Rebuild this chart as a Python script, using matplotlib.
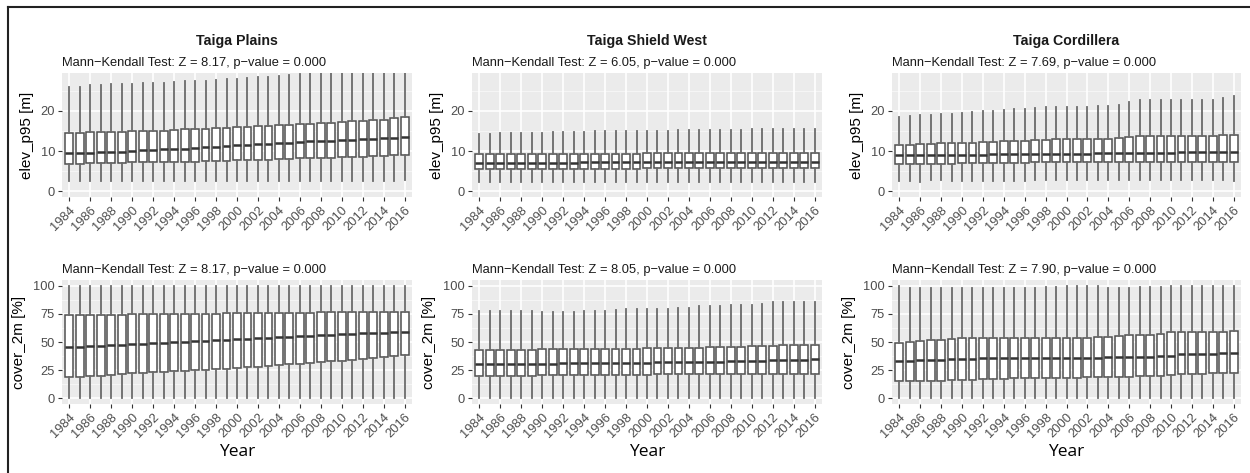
import matplotlib
matplotlib.use("Agg")
import matplotlib.pyplot as plt
from matplotlib.lines import Line2D

years = list(range(1984, 2017))
tick_years = [y for y in years if y % 2 == 0]

regions = ["Taiga Plains", "Taiga Shield West", "Taiga Cordillera"]
subtitles_elev = ["Mann\u2212Kendall Test: Z = 8.17, p\u2212value = 0.000",
                  "Mann\u2212Kendall Test: Z = 6.05, p\u2212value = 0.000",
                  "Mann\u2212Kendall Test: Z = 7.69, p\u2212value = 0.000"]
subtitles_cov = ["Mann\u2212Kendall Test: Z = 8.17, p\u2212value = 0.000",
                 "Mann\u2212Kendall Test: Z = 8.05, p\u2212value = 0.000",
                 "Mann\u2212Kendall Test: Z = 7.90, p\u2212value = 0.000"]

# ---- Taiga Plains elev_p95
tp_elev_lo = [2.5]*31 + [2.6, 2.8]
tp_elev_q1 = [6.9,6.9,7.0,7.0,7.1,7.1,7.2,7.2,7.2,7.2,7.3,7.4,7.4,7.5,7.6,7.6,7.7,7.7,7.8,7.9,8.0,8.1,8.2,8.2,8.3,8.4,8.5,8.6,8.6,8.7,8.8,9.0,9.1]
tp_elev_med = [9.5,9.5,9.6,9.7,9.8,9.9,10.0,10.2,10.3,10.4,10.5,10.6,10.8,10.9,11.0,11.2,11.4,11.5,11.7,11.8,11.9,12.1,12.3,12.4,12.5,12.6,12.8,12.8,13.0,13.1,13.2,13.2,13.5]
tp_elev_q3 = [14.6,14.6,14.7,14.7,14.8,14.8,14.9,15.1,15.1,15.1,15.2,15.4,15.5,15.6,15.7,15.8,16.0,16.1,16.2,16.3,16.5,16.5,16.7,16.8,17.0,17.0,17.2,17.4,17.6,17.7,17.8,18.2,18.4]
tp_elev_hi = [25.9,26.0,26.4,26.5,26.6,26.6,26.7,26.9,27.0,27.0,27.1,27.3,27.4,27.5,27.7,27.8,28.0,28.1,28.3,28.5,28.7,29.0,29.2,29.6,30.0,30.4,30.8,31.2,31.6,32.0,32.4,32.8,33.2]

# ---- Taiga Shield West elev_p95
tsw_elev_lo = [2.4]*33
tsw_elev_q1 = [5.6]*16 + [5.7]*17
tsw_elev_med = [7.1]*10 + [7.2]*15 + [7.3]*8
tsw_elev_q3 = [9.2,9.2,9.3,9.3,9.3,9.3,9.3,9.3,9.3,9.4,9.4,9.4,9.4,9.4,9.4,9.4,9.5,9.5,9.5,9.5,9.5,9.5,9.5,9.5,9.6,9.6,9.6,9.6,9.6,9.6,9.6,9.6,9.6]
tsw_elev_hi = [14.2,14.3,14.4,14.5,14.5,14.6,14.6,14.7,14.7,14.8,14.8,14.9,14.9,14.9,15.0,15.0,15.0,15.1,15.1,15.2,15.2,15.2,15.3,15.3,15.3,15.3,15.4,15.4,15.4,15.4,15.4,15.5,15.5]

# ---- Taiga Cordillera elev_p95
tc_elev_lo = [2.5,2.6,2.3,2.7,2.7,2.6,2.5,2.5,2.5,2.6,2.5,2.6,2.6,2.7,2.7,2.7,2.7,2.7,2.7,2.7,2.7,2.7,2.7,2.7,2.7,2.7,2.7,2.7,2.7,2.7,2.7,2.7,2.6]
tc_elev_q1 = [6.7,6.7,6.8,6.9,6.9,6.9,7.0,7.0,7.0,7.1,7.1,7.1,7.1,7.2,7.2,7.2,7.3,7.3,7.3,7.3,7.3,7.3,7.3,7.4,7.4,7.4,7.4,7.4,7.4,7.4,7.4,7.4,7.4]
tc_elev_med = [9.0,9.0,9.0,9.0,9.0,9.1,9.1,9.1,9.1,9.2,9.2,9.2,9.2,9.3,9.4,9.4,9.4,9.4,9.4,9.5,9.5,9.5,9.6,9.6,9.6,9.6,9.6,9.7,9.7,9.7,9.7,9.8,9.8]
tc_elev_q3 = [11.4,11.5,11.7,11.8,11.9,11.9,12.0,12.1,12.2,12.3,12.4,12.5,12.5,12.7,12.8,12.9,12.9,12.9,12.9,13.0,13.1,13.2,13.5,13.7,13.7,13.7,13.7,13.7,13.7,13.7,13.7,13.9,14.1]
tc_elev_hi = [18.5,18.6,18.9,19.0,19.1,19.2,19.5,19.6,19.9,20.0,20.3,20.5,20.4,20.7,21.0,21.0,21.0,20.9,20.9,21.2,21.3,21.5,22.1,22.6,22.8,22.7,22.7,22.6,22.7,22.8,22.7,23.2,23.8]

# ---- Taiga Plains cover_2m
tp_cov_lo = [0.0]*33
tp_cov_q1 = [18.8,19.2,19.7,20.2,20.8,21.5,22.2,22.8,23.3,23.8,24.3,24.5,24.8,25.3,25.8,26.4,27.0,27.5,28.0,28.8,29.6,30.3,30.8,31.5,32.2,32.8,33.5,34.3,35.2,35.8,36.4,37.2,38.2]
tp_cov_med = [45.5,46.0,46.3,46.8,47.2,47.6,48.0,48.5,49.0,49.5,50.0,50.4,50.8,51.2,51.6,52.0,52.4,52.8,53.3,53.8,54.2,54.6,55.0,55.4,55.8,56.2,56.7,57.2,57.6,58.0,58.3,58.6,58.8]
tp_cov_q3 = [74.0,74.0,74.0,74.1,74.2,74.3,74.4,74.5,74.6,74.7,74.8,74.9,75.0,75.1,75.2,75.3,75.4,75.5,75.6,75.7,75.8,75.9,76.0,76.1,76.2,76.3,76.4,76.5,76.5,76.6,76.7,76.7,76.8]
tp_cov_hi = [100.0]*33

# ---- Taiga Shield West cover_2m
tsw_cov_lo = [0.0]*33
tsw_cov_q1 = [19.7,19.8,19.9,20.0,20.1,20.2,20.3,20.4,20.5,20.6,20.7,20.8,20.9,21.0,21.0,21.1,21.1,21.2,21.2,21.3,21.3,21.4,21.4,21.5,21.5,21.6,21.6,21.7,21.7,21.8,21.8,21.9,22.0]
tsw_cov_med = [30.2,30.3,30.4,30.5,30.6,30.7,30.8,30.9,31.0,31.1,31.2,31.3,31.4,31.5,31.6,31.7,31.8,31.9,32.0,32.1,32.2,32.3,32.4,32.6,32.8,33.0,33.2,33.4,33.6,33.8,34.1,34.4,34.7]
tsw_cov_q3 = [43.0,43.0,43.0,43.1,43.2,43.3,43.4,43.5,43.6,43.6,43.7,43.8,43.9,44.0,44.1,44.2,44.3,44.4,44.5,44.7,44.9,45.1,45.3,45.5,45.7,45.9,46.1,46.4,46.8,47.0,47.2,47.3,47.4]
tsw_cov_hi = [77.6,77.5,77.3,77.3,77.2,77.2,77.0,77.0,77.0,77.0,77.2,77.4,77.6,78.5,79.0,79.0,79.2,79.2,79.5,80.2,80.6,81.5,82.0,82.2,82.4,82.5,82.8,83.8,85.5,85.5,85.5,85.3,85.3]

# ---- Taiga Cordillera cover_2m
tc_cov_lo = [0.0]*33
tc_cov_q1 = [15.3,15.4,15.5,15.6,15.8,16.2,16.5,16.7,17.0,17.3,17.5,17.7,17.9,18.1,18.2,18.3,18.4,18.5,18.6,18.7,18.8,18.9,19.1,19.4,19.7,20.2,20.8,21.4,21.8,22.0,22.2,22.4,22.6]
tc_cov_med = [33.0,33.5,33.8,34.0,34.4,34.8,35.2,35.3,35.4,35.5,35.5,35.5,35.6,35.6,35.7,35.8,35.9,36.0,36.1,36.2,36.3,36.4,36.6,36.8,37.0,37.5,38.0,39.0,39.3,39.5,39.7,39.9,40.0]
tc_cov_q3 = [49.4,50.2,51.0,51.6,52.2,52.8,53.4,53.5,53.5,53.5,53.5,53.5,53.5,53.5,53.5,53.5,53.5,53.5,53.5,54.2,54.6,55.2,55.8,56.0,56.5,57.3,58.5,59.0,59.0,59.0,59.0,59.2,59.5]
tc_cov_hi = [99.5,97.5,97.5,98.0,97.5,97.5,97.5,97.5,97.5,97.5,97.5,97.5,97.5,98.0,99.0,98.5,99.5,99.5,99.5,99.5,98.0,98.0,98.0,99.0,99.0,99.0,99.5,100.0,100.0,100.0,100.0,100.0,100.0]

elev_sets = [
    (tp_elev_lo, tp_elev_q1, tp_elev_med, tp_elev_q3, tp_elev_hi),
    (tsw_elev_lo, tsw_elev_q1, tsw_elev_med, tsw_elev_q3, tsw_elev_hi),
    (tc_elev_lo, tc_elev_q1, tc_elev_med, tc_elev_q3, tc_elev_hi),
]
cov_sets = [
    (tp_cov_lo, tp_cov_q1, tp_cov_med, tp_cov_q3, tp_cov_hi),
    (tsw_cov_lo, tsw_cov_q1, tsw_cov_med, tsw_cov_q3, tsw_cov_hi),
    (tc_cov_lo, tc_cov_q1, tc_cov_med, tc_cov_q3, tc_cov_hi),
]

plt.rcParams['font.family'] = ['Liberation Sans', 'DejaVu Sans']

W, H = 1250, 473
fig = plt.figure(figsize=(W/100, H/100), dpi=100)

def fx(px):
    return px / W

def fy(py):
    return 1 - py / H

lefts = [62, 472, 892]
rights = [412, 822, 1241]
rows = [(73, 197), (280, 404)]

BG = '#EBEBEB'
TICKCOL = '#4D4D4D'
BOXCOL = '#505050'
WHISKCOL = '#6a6a6a'

def draw_panel(ax, stats_src, ylim, major, minor, ylabel, subtitle, title, show_xlabel):
    lo, q1, med, q3, hi = stats_src
    stats = []
    for i in range(len(years)):
        stats.append(dict(whislo=lo[i], q1=q1[i], med=med[i], q3=q3[i], whishi=hi[i], fliers=[]))
    ax.set_facecolor(BG)
    for v in major:
        ax.axhline(v, color='white', lw=1.2, zorder=0)
    for v in minor:
        ax.axhline(v, color='#F6F6F6', lw=0.7, zorder=0)
    pos = list(range(1, len(years) + 1))
    for p, y in zip(pos, years):
        if y in tick_years:
            ax.axvline(p, color='white', lw=1.2, zorder=0)
    ax.bxp(stats, positions=pos, widths=0.75, patch_artist=True, showfliers=False,
           showcaps=False,
           boxprops=dict(facecolor='white', edgecolor=BOXCOL, linewidth=1.1),
           medianprops=dict(color='#333333', linewidth=1.8),
           whiskerprops=dict(color=WHISKCOL, linewidth=1.3),
           manage_ticks=False, zorder=2)
    ax.set_xlim(0.3, len(years) + 0.7)
    ax.set_ylim(*ylim)
    for s in ax.spines.values():
        s.set_visible(False)
    tpos = [pos[years.index(y)] for y in tick_years]
    ax.set_xticks(tpos)
    ax.set_xticklabels([str(y) for y in tick_years], rotation=45, ha='right',
                       rotation_mode='anchor', fontsize=9.3, color=TICKCOL)
    ax.set_yticks(major)
    ax.set_yticklabels([str(v) for v in major], fontsize=9.3, color=TICKCOL)
    ax.tick_params(axis='both', length=3, width=0.8, color='#333333', pad=2)
    ax.set_ylabel(ylabel, fontsize=11, color='black', labelpad=5)
    ax.text(0, 1.035, subtitle, transform=ax.transAxes, ha='left', va='bottom',
            fontsize=9.3, color='#1a1a1a')
    if title:
        ax.text(0.5, 1.2, title, transform=ax.transAxes, ha='center', va='bottom',
                fontsize=10.2, fontweight='bold', color='#1a1a1a')
    if show_xlabel:
        ax.set_xlabel('Year', fontsize=12.5, family=['Open Sans', 'DejaVu Sans'], labelpad=3)

for c in range(3):
    top, bot = rows[0]
    ax = fig.add_axes([fx(lefts[c]), fy(bot), fx(rights[c] - lefts[c]), (bot - top) / H])
    draw_panel(ax, elev_sets[c], (-1.4, 29.4), [0, 10, 20], [5, 15, 25],
               'elev_p95 [m]', subtitles_elev[c], regions[c], False)
    top, bot = rows[1]
    ax = fig.add_axes([fx(lefts[c]), fy(bot), fx(rights[c] - lefts[c]), (bot - top) / H])
    draw_panel(ax, cov_sets[c], (-5, 105), [0, 25, 50, 75, 100], [12.5, 37.5, 62.5, 87.5],
               'cover_2m [%]', subtitles_cov[c], None, True)

# outer frame (left and top edges)
fig.add_artist(Line2D([fx(8), fx(8)], [0, fy(7)], color='#222222', lw=1.5))
fig.add_artist(Line2D([fx(8), 1], [fy(7), fy(7)], color='#222222', lw=1.5))

fig.savefig('out.png', dpi=100)
